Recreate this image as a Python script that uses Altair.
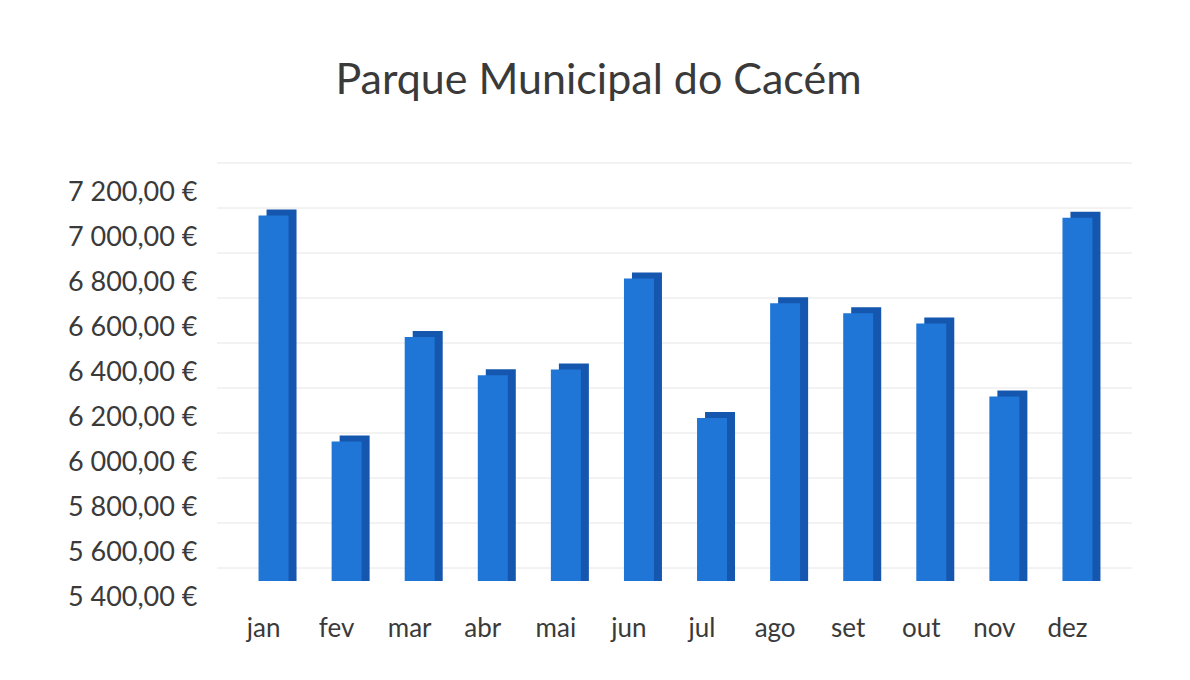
import altair as alt
import pandas as pd

months = ["jan", "fev", "mar", "abr", "mai", "jun", "jul", "ago", "set", "out", "nov", "dez"]
values = [7025, 6020, 6485, 6315, 6340, 6745, 6125, 6635, 6590, 6545, 6220, 7015]
tick_values = [5400, 5600, 5800, 6000, 6200, 6400, 6600, 6800, 7000, 7200]

df = pd.DataFrame({"mes": months, "valor": values})
grid_df = pd.DataFrame({"v": tick_values})

FONT = "Lato"
TXT = "#3a3a3a"
W, H = 877, 405

yscale = alt.Scale(domain=[5400, 7200], zero=False, nice=False)
label_expr = "replace(replace(format(datum.value, ',.2f'), ',', ' '), '.', ',') + ' €'"
yaxis = alt.Axis(values=tick_values, labelExpr=label_expr, grid=False, domain=False,
                 ticks=False, labelFont=FONT, labelFontSize=27, labelColor=TXT,
                 labelPadding=40, labelOffset=16, title=None)
xscale = alt.Scale(paddingInner=0.6, paddingOuter=0.3)
xaxis = alt.Axis(domain=False, ticks=False, labelFont=FONT, labelFontSize=26,
                 labelColor=TXT, labelPadding=34, labelOffset=-10, labelAngle=0, title=None)

grid = alt.Chart(grid_df).mark_rule(color="#e6e6e6", strokeWidth=1, yOffset=-13).encode(
    y=alt.Y("v:Q", scale=yscale, axis=yaxis),
    x=alt.value(-20),
    x2=alt.value(W + 18),
)

back = alt.Chart(df).mark_bar(color="#1556ae", width=30, xOffset=8, yOffset=-6).encode(
    x=alt.X("mes:N", sort=months, scale=xscale, axis=xaxis),
    y=alt.Y("valor:Q", scale=yscale, axis=yaxis),
    y2=alt.datum(5400),
)

front = alt.Chart(df).mark_bar(color="#1f76d6", width=30).encode(
    x=alt.X("mes:N", sort=months, scale=xscale, axis=xaxis),
    y=alt.Y("valor:Q", scale=yscale, axis=yaxis),
    y2=alt.datum(5400),
)

chart = alt.layer(grid, back, front).properties(
    width=W,
    height=H,
    title=alt.TitleParams(
        "Parque Municipal do Cacém",
        font=FONT,
        fontSize=43,
        fontWeight="normal",
        color=TXT,
        anchor="middle",
        dx=-77,
        baseline="alphabetic",
        offset=26,
    ),
    autosize=alt.AutoSizeParams(type="none"),
    padding={"left": 229, "top": 168, "right": 60, "bottom": 80},
    background="white",
).configure_view(stroke=None)

chart.save("out.html", embed_options={"renderer": "svg", "actions": False})
